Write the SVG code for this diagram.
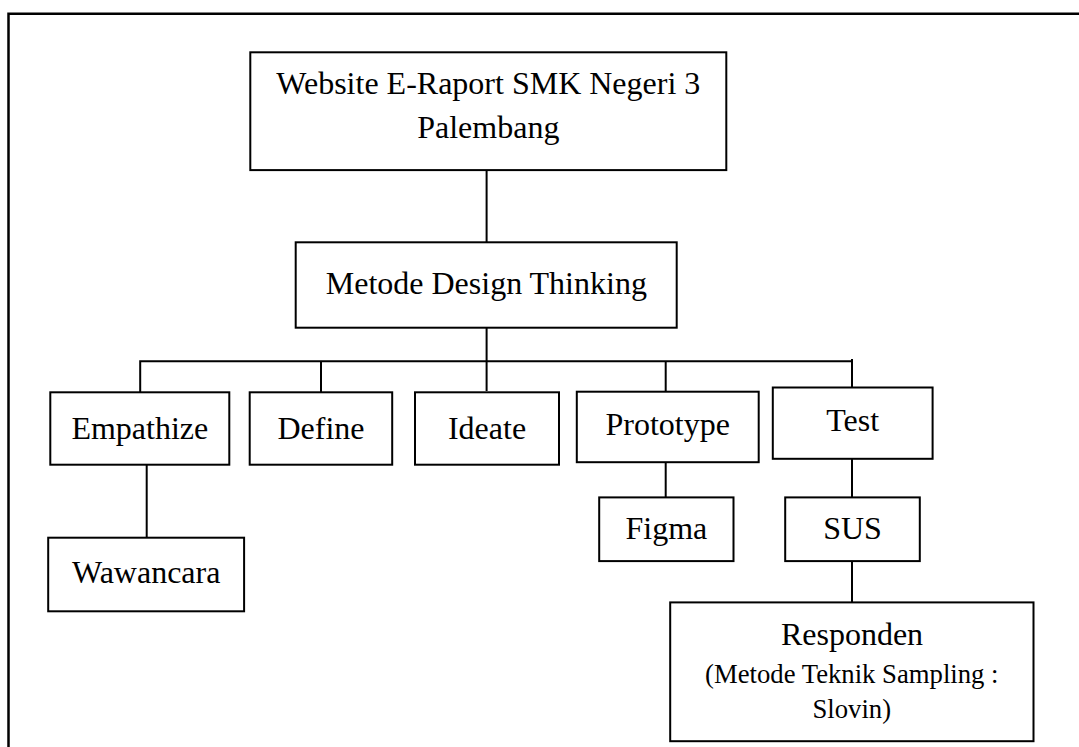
<svg xmlns="http://www.w3.org/2000/svg" width="1079" height="747" viewBox="0 0 1079 747">
<style>
.box{fill:#fff;stroke:#000;stroke-width:2}
.c{fill:none;stroke:#000;stroke-width:2}
.t{font-family:"Liberation Serif","Times New Roman",serif;font-size:32px;fill:#000;text-anchor:middle}
.s{font-size:26.7px}
</style>
<rect width="1079" height="747" fill="#fff"/>
<path d="M8.5 760 V13.8 H1090" fill="none" stroke="#000" stroke-width="2.5"/>
<g id="connectors">
<path class="c" d="M486.6 170 V242"/>
<path class="c" d="M486.6 328 V391"/>
<path class="c" d="M140.2 392 V361.3 H852"/>
<path class="c" d="M321 361.3 V392"/>
<path class="c" d="M665.7 361.3 V392"/>
<path class="c" d="M852 359 V388"/>
<path class="c" d="M146.7 465 V537.7"/>
<path class="c" d="M665.7 462 V497.4"/>
<path class="c" d="M852 459 V497.4"/>
<path class="c" d="M852 561 V602.4"/>
</g>
<g id="website">
<rect class="box" x="250.3" y="52.3" width="476" height="117.8"/>
<text class="t" x="488.3" y="93.7">Website E-Raport SMK Negeri 3</text>
<text class="t" x="488.3" y="137.7">Palembang</text>
</g>
<g id="metode">
<rect class="box" x="295.7" y="242.3" width="381" height="85.4"/>
<text class="t" x="486.3" y="294.3">Metode Design Thinking</text>
</g>
<g id="empathize">
<rect class="box" x="50.3" y="392.3" width="179" height="72.4"/>
<text class="t" x="139.8" y="438.8">Empathize</text>
</g>
<g id="define">
<rect class="box" x="249.7" y="392.3" width="142.5" height="72.4"/>
<text class="t" x="321" y="438.8">Define</text>
</g>
<g id="ideate">
<rect class="box" x="415" y="392.3" width="144" height="72.4"/>
<text class="t" x="487" y="438.8">Ideate</text>
</g>
<g id="prototype">
<rect class="box" x="576.8" y="391.7" width="181.9" height="70.5"/>
<text class="t" x="667.7" y="434.7">Prototype</text>
</g>
<g id="test">
<rect class="box" x="772.8" y="387.5" width="159.8" height="71.3"/>
<text class="t" x="852.7" y="431.3">Test</text>
</g>
<g id="wawancara">
<rect class="box" x="48.2" y="537.7" width="195.9" height="73.6"/>
<text class="t" x="146.2" y="582.8">Wawancara</text>
</g>
<g id="figma">
<rect class="box" x="599.2" y="497.4" width="134.3" height="63.7"/>
<text class="t" x="666.4" y="538.7">Figma</text>
</g>
<g id="sus">
<rect class="box" x="785.2" y="497.4" width="134.6" height="63.7"/>
<text class="t" x="852.5" y="538.7">SUS</text>
</g>
<g id="responden">
<rect class="box" x="670.2" y="602.4" width="363.3" height="138.8"/>
<text class="t" x="852" y="644.8">Responden</text>
<text class="t s" x="851.8" y="682.6">(Metode Teknik Sampling :</text>
<text class="t s" x="851.8" y="717.7">Slovin)</text>
</g>
</svg>
